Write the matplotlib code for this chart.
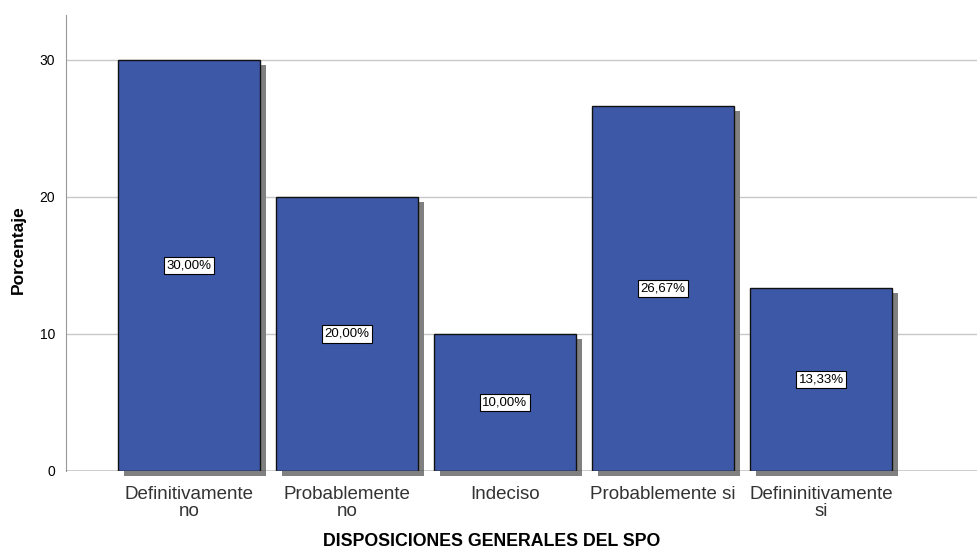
import numpy as np
import matplotlib.pyplot as plt
from matplotlib.transforms import ScaledTranslation

categorias = ["Definitivamente\nno", "Probablemente\nno", "Indeciso",
              "Probablemente si", "Defininitivamente\nsi"]
porcentajes = [30.00, 20.00, 10.00, 26.67, 13.33]
etiquetas = ["30,00%", "20,00%", "10,00%", "26,67%", "13,33%"]

plt.rcParams['font.family'] = ['Liberation Sans', 'DejaVu Sans']

fig = plt.figure(figsize=(9.77, 5.55), dpi=100)
ax = fig.add_axes([66/977, 1-471/555, 1-66/977, (471-15)/555])

x = np.arange(len(categorias))
# sombra desplazada
sombra = ax.transData + ScaledTranslation(6/100, -5/100, fig.dpi_scale_trans)
ax.bar(x, porcentajes, width=0.9, color='#808080', linewidth=0,
       transform=sombra, clip_on=False, zorder=2)
ax.bar(x, porcentajes, width=0.9, color='#3E58A8', edgecolor='#111111',
       linewidth=1, zorder=3)

for xi, v, t in zip(x, porcentajes, etiquetas):
    ax.text(xi, v/2, t, ha='center', va='center', fontsize=9.5, zorder=5,
            bbox=dict(boxstyle='square,pad=0.2', fc='white', ec='black', lw=0.8))

ax.set_xlim(-0.778, 4.987)
ax.set_ylim(0, 33.28)
ax.set_yticks([0, 10, 20, 30])
ax.yaxis.grid(True, color='#c8c8c8', linewidth=1)
ax.set_axisbelow(True)
ax.axhline(0, color='#333333', linewidth=1, zorder=4)
ax.set_xticks(x)
ax.set_xticklabels(categorias, fontsize=13.5, color='#333333', linespacing=0.98)
ax.tick_params(axis='x', length=0, pad=11)
ax.tick_params(axis='y', length=0, pad=8, labelsize=10)
for s in ['top', 'right', 'bottom']:
    ax.spines[s].set_visible(False)
ax.spines['left'].set_color('#999999')

fig.text(18/977, 1-250/555, 'Porcentaje', rotation=90, ha='center', va='center',
         fontsize=12.5, fontweight='bold')
fig.text(492/977, 1-542/555, 'DISPOSICIONES GENERALES DEL SPO', ha='center',
         va='center', fontsize=12.8, fontweight='bold')

plt.savefig('out.png', dpi=100)
